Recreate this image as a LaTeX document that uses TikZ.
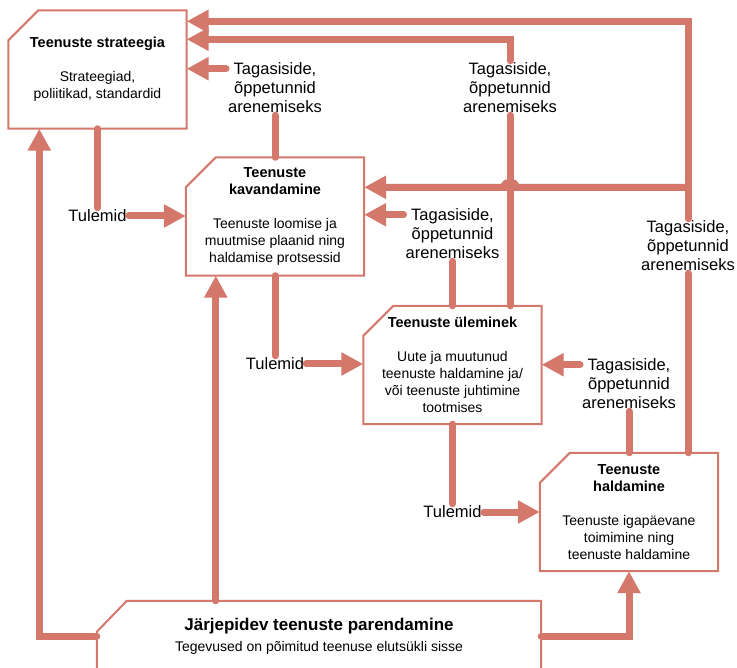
\documentclass[tikz,border=0pt]{standalone}
\usepackage{fontspec}
\setmainfont{Liberation Sans}
\usetikzlibrary{arrows.meta,calc}
\definecolor{flowred}{RGB}{212,120,108}
% outline of a stage box with the cut top-left corner
\newcommand{\stageframe}[1]{%
  \draw[frame] (#1.south west) -- (#1.south east) -- (#1.north east)
    -- ([xshift=30pt]#1.north west) -- ([yshift=-30pt]#1.north west) -- cycle;}
\newcommand{\stagetitle}[1]{{\fontsize{14.5}{17}\selectfont\bfseries #1}}
\tikzset{
  stage/.style={rectangle, minimum width=178pt, minimum height=118pt, inner sep=0pt,
    align=center, font=\fontsize{14}{17}\selectfont},
  frame/.style={draw=flowred, line width=2pt},
  feedback/.style={align=center, inner sep=2pt, font=\fontsize{16.5}{19}\selectfont},
  flow/.style={draw=flowred, line width=7pt, line cap=round},
  flowarrow/.style={flow, -{Triangle[length=22pt,width=22pt]}},
}

\begin{document}
\begin{tikzpicture}[x=1pt, y=-1pt]
  \path[use as bounding box, fill=white] (0,0) rectangle (737,668);

  % Stage boxes
  \node[stage] (strat) at (97.5,69.5) {\stagetitle{Teenuste strateegia}\\[17pt]Strateegiad,\\poliitikad, standardid};
  \node[stage] (kav) at (275,216.5) {\stagetitle{Teenuste}\\\stagetitle{kavandamine}\\[17pt]Teenuste loomise ja\\muutmise plaanid ning\\haldamise protsessid};
  \node[stage] (ule) at (452.5,365) {\stagetitle{Teenuste üleminek}\\[17pt]Uute ja muutunud\\teenuste haldamine ja/\\või teenuste juhtimine\\tootmises};
  \node[stage] (hald) at (629,512) {\stagetitle{Teenuste}\\\stagetitle{haldamine}\\[17pt]Teenuste igapäevane\\toimimine ning\\teenuste haldamine};
  \node[stage, minimum width=444pt, minimum height=70pt] (par) at (319,636)
    {{\fontsize{17}{21}\selectfont\bfseries Järjepidev teenuste parendamine}\\[4pt]Tegevused on põimitud teenuse elutsükli sisse};

  \foreach \stg in {strat,kav,ule,hald} {
    \stageframe{\stg}
  }
  \draw[frame] (par.south west) -- ([yshift=-31pt]par.north west) -- ([xshift=30pt]par.north west)
    -- (par.north east) -- (par.south east);

  % Labels
  \node[feedback] (fbA) at (275,88) {Tagasiside,\\õppetunnid\\arenemiseks};
  \node[feedback] (fbB) at (510,88) {Tagasiside,\\õppetunnid\\arenemiseks};
  \node[feedback] (fbC) at (452.5,234) {Tagasiside,\\õppetunnid\\arenemiseks};
  \node[feedback] (fbD) at (688,246) {Tagasiside,\\õppetunnid\\arenemiseks};
  \node[feedback] (fbE) at (629,384) {Tagasiside,\\õppetunnid\\arenemiseks};
  \node[feedback] (tulA) at (97.5,216) {Tulemid};
  \node[feedback] (tulB) at (275,364) {Tulemid};
  \node[feedback] (tulC) at (452.5,512) {Tulemid};

  % Results passed on to the next stage
  \foreach \from/\lab/\to in {strat/tulA/kav, kav/tulB/ule, ule/tulC/hald} {
    \draw[flow] (\from.south) -- (\lab.north);
    \draw[flowarrow] (\lab.east) -- (\lab.east -| \to.west);
  }

  % Feedback to the previous stage
  \foreach \from/\lab/\to in {kav/fbA/strat, ule/fbC/kav, hald/fbE/ule} {
    \draw[flow] (\from.north) -- (\lab.south);
    \coordinate (\lab-in) at ($(\lab.north west)+(0,8)$);
    \draw[flowarrow] (\lab-in) -- (\lab-in -| \to.east);
  }

  % Long feedback lines
  \coordinate (topB) at ($(strat.north east)+(0,29)$);
  \coordinate (topD) at ($(strat.north east)+(0,11)$);
  \coordinate (kavIn) at ($(kav.north east)+(0,30)$);
  \draw[flow] (ule.north -| fbB) -- (fbB.south);
  \draw[flowarrow] (fbB.north) |- (topB);
  \draw[flow] (hald.north -| fbD) -- (fbD.south);
  \draw[flowarrow] (fbD.north) |- (topD);
  \draw[flowarrow] (fbD.north |- kavIn) -- ($(fbB |- kavIn)+(6,0)$)
    .. controls +(0,-7) and +(0,-7) .. ($(fbB |- kavIn)+(-6,0)$) -- (kavIn);

  % Continual improvement feeds every stage
  \coordinate (parUp) at ($(par.north west)+(119,0)$);
  \draw[flowarrow] (par.west) -| ($(strat.south west)+(31,0)$);
  \draw[flowarrow] (par.east) -| (hald.south);
  \draw[flowarrow] (parUp) -- (parUp |- kav.south);
\end{tikzpicture}
\end{document}
